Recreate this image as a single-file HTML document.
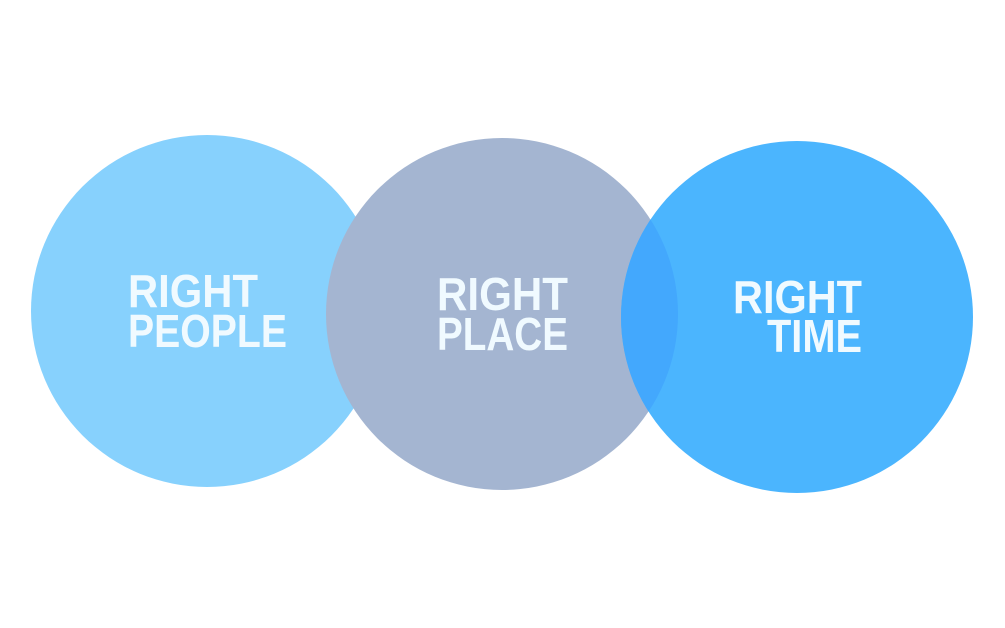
<!DOCTYPE html>
<html><head><meta charset="utf-8"><style>
html,body{margin:0;padding:0;background:#fff;width:1005px;height:628px;overflow:hidden}
</style></head><body>
<svg width="1005" height="628" viewBox="0 0 1005 628" xmlns="http://www.w3.org/2000/svg">
<rect width="1005" height="628" fill="#fff"/>
<circle cx="207" cy="311" r="176" fill="#87d1fd"/>
<circle cx="502" cy="314" r="176" fill="#a4b5d1"/>
<circle cx="797" cy="317" r="176" fill="#4bb5fe"/>
<clipPath id="c2"><circle cx="502" cy="314" r="176"/></clipPath>
<circle cx="797" cy="317" r="176" fill="#43a8fd" clip-path="url(#c2)"/>
<g font-family="Liberation Sans, sans-serif" font-weight="bold" font-size="46" fill="#f0faff">
<text x="128" y="307" textLength="130" lengthAdjust="spacingAndGlyphs">RIGHT</text>
<text x="128" y="347" textLength="159" lengthAdjust="spacingAndGlyphs">PEOPLE</text>
<text x="437" y="310" textLength="131" lengthAdjust="spacingAndGlyphs">RIGHT</text>
<text x="437" y="350" textLength="131" lengthAdjust="spacingAndGlyphs">PLACE</text>
<text x="733" y="313" textLength="129" lengthAdjust="spacingAndGlyphs">RIGHT</text>
<text x="767" y="352" textLength="95" lengthAdjust="spacingAndGlyphs">TIME</text>
</g>
</svg>
</body></html>
